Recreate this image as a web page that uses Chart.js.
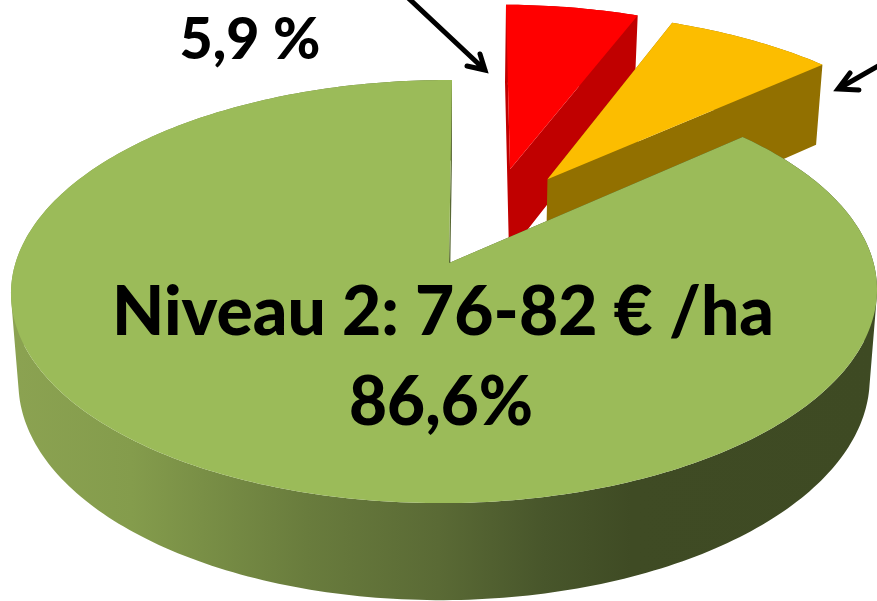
<!DOCTYPE html>
<html>
<head>
<meta charset="utf-8">
<style>
html,body{margin:0;padding:0;background:#fff;}
#wrap{width:877px;height:601px;position:relative;overflow:hidden;}
canvas{display:block;}
</style>
<script src="https://cdn.jsdelivr.net/npm/chart.js@4/dist/chart.umd.min.js"></script>
</head>
<body>
<div id="wrap"><canvas id="c" width="877" height="601"></canvas></div>
<script>
// Data (clockwise from 12 o'clock)
const categories = ['5,9 %', '7,5 %', 'Niveau 2: 76-82 € /ha'];
const shares = [5.9, 7.5, 86.6];
const topColors = ['#ff0000', '#fcbd00', '#9bbb59'];
const wallColors = ['#c00000', '#927000', null];

// Style: perspective of the disc and explosion of each slice (in disc units)
const apexX = 449, apexY = 263, kx = 429, skew = 3.4, ky = 207.7, p = 0.135, q = 0.0104;
const explode = [[0.148, 0.482, 1.015], [0.24, 0.428, 1.02], [0, 0, 1]];
const shrink = 0.983, depthK = 1.0388, depthC = 77.5;

function topPoint(u, v) {
  const d = 1 + p * v + q * u;
  return [apexX + (kx * u + skew * v) / d, apexY - ky * v / d];
}
function bottomPoint(pt) {
  return [apexX + shrink * (pt[0] - apexX), depthK * pt[1] + depthC];
}
function addQuad(ctx, a, b, c, d) {
  const area = (b[0]-a[0])*(c[1]-a[1]) - (b[1]-a[1])*(c[0]-a[0]) +
               (c[0]-a[0])*(d[1]-a[1]) - (c[1]-a[1])*(d[0]-a[0]);
  const pts = area >= 0 ? [a, b, c, d] : [d, c, b, a];
  ctx.moveTo(pts[0][0], pts[0][1]);
  for (let i = 1; i < 4; i++) ctx.lineTo(pts[i][0], pts[i][1]);
  ctx.closePath();
}
function drawSlice(ctx) {
  const i = this.$context.index;
  const [ox, oy, r] = explode[i];
  const s = this.startAngle + Math.PI / 2, e = this.endAngle + Math.PI / 2;
  const n = Math.max(2, Math.ceil((e - s) / (Math.PI / 180)));
  const rim = [];
  for (let k = 0; k <= n; k++) {
    const a = s + (e - s) * k / n;
    rim.push(topPoint(ox + r * Math.sin(a), oy + r * Math.cos(a)));
  }
  const apex = topPoint(ox, oy);
  // side wall
  ctx.save();
  ctx.beginPath();
  for (let k = 0; k < n; k++) addQuad(ctx, rim[k], rim[k+1], bottomPoint(rim[k+1]), bottomPoint(rim[k]));
  addQuad(ctx, apex, rim[0], bottomPoint(rim[0]), bottomPoint(apex));
  addQuad(ctx, apex, rim[n], bottomPoint(rim[n]), bottomPoint(apex));
  if (wallColors[i]) {
    ctx.fillStyle = wallColors[i];
  } else {
    const g = ctx.createLinearGradient(0, 0, 877, 0);
    g.addColorStop(0, '#8ca352');
    g.addColorStop(0.15, '#849c4c');
    g.addColorStop(0.35, '#697c3d');
    g.addColorStop(0.5, '#5a6a35');
    g.addColorStop(0.62, '#48562b');
    g.addColorStop(0.72, '#3f4b24');
    g.addColorStop(1, '#3e4a23');
    ctx.fillStyle = g;
  }
  ctx.fill('nonzero');
  // top face
  ctx.beginPath();
  ctx.moveTo(apex[0], apex[1]);
  rim.forEach(pt => ctx.lineTo(pt[0], pt[1]));
  ctx.closePath();
  ctx.fillStyle = this.options.backgroundColor;
  ctx.fill();
  ctx.restore();
}

const projection = {
  id: 'projection',
  afterDatasetUpdate(chart) {
    chart.getDatasetMeta(0).data.forEach(el => { el.draw = drawSlice; });
  }
};

function arrow(ctx, from, tip, b1, b2) {
  ctx.beginPath();
  ctx.moveTo(from[0], from[1]); ctx.lineTo(tip[0], tip[1]);
  ctx.moveTo(b1[0], b1[1]); ctx.lineTo(tip[0], tip[1]); ctx.lineTo(b2[0], b2[1]);
  ctx.stroke();
}
const annotations = {
  id: 'annotations',
  afterDraw(chart) {
    const ctx = chart.ctx;
    ctx.save();
    ctx.fillStyle = '#000';
    ctx.textAlign = 'center';
    ctx.textBaseline = 'alphabetic';
    ctx.font = '900 69px Lato';
    ctx.fillText(categories[2], 443, 335, 662);
    ctx.fillText('86,6%', 441, 425, 184);
    ctx.font = '900 58px Lato';
    ctx.fillText(categories[0], 250, 59, 141);
    ctx.strokeStyle = '#000';
    ctx.lineWidth = 5;
    ctx.lineCap = 'round';
    ctx.lineJoin = 'miter';
    arrow(ctx, [404, -6], [485, 70], [467, 66], [480, 54]);
    arrow(ctx, [880, 65], [838, 89], [859, 90], [850, 73]);
    ctx.restore();
  }
};

new Chart(document.getElementById('c'), {
  type: 'pie',
  data: {
    labels: categories,
    datasets: [{ data: shares, backgroundColor: topColors, borderWidth: 0 }]
  },
  options: {
    responsive: false,
    animation: false,
    rotation: 0,
    layout: { padding: 0 },
    plugins: { legend: { display: false }, tooltip: { enabled: false } }
  },
  plugins: [projection, annotations]
});
</script>
</body>
</html>
